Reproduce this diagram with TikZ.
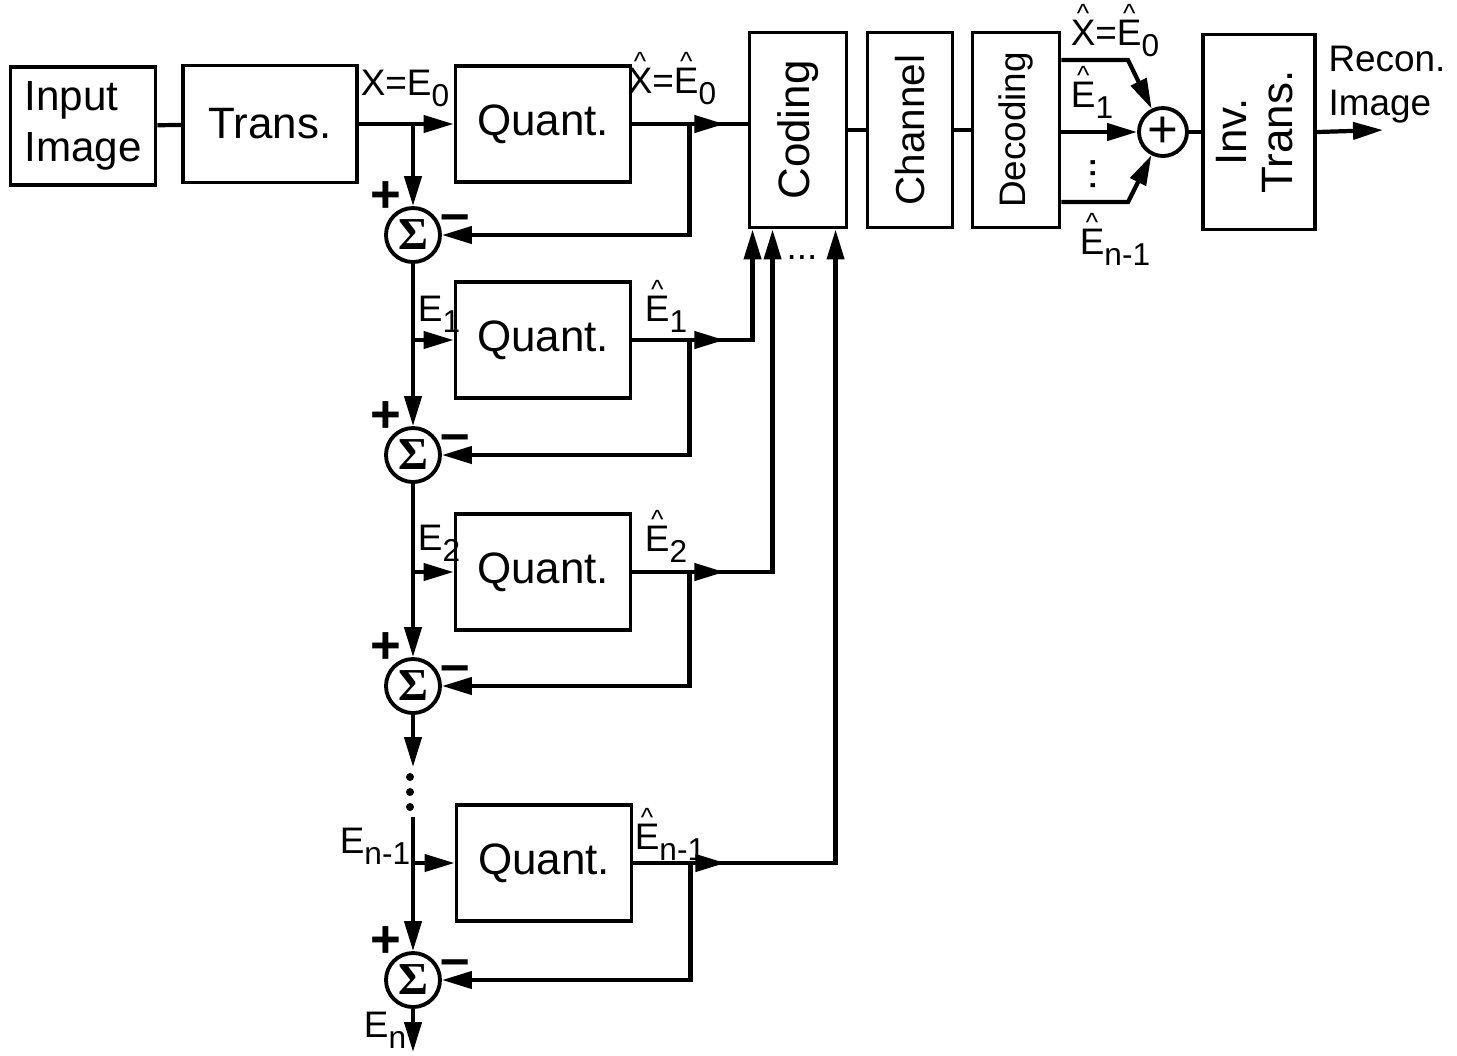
\documentclass[tikz,border=0pt]{standalone}
\usepackage{fontspec}
\usepackage{graphicx}
\setmainfont{Liberation Sans}
\newfontfamily\sigmafont{Liberation Serif}
\usetikzlibrary{arrows.meta, positioning, calc, decorations.markings}
\tikzset{
  every picture/.style={line width=1.2pt},
  blk/.style={draw, line width=1.1pt, inner sep=2pt, font=\fontsize{12.5}{15}\selectfont, minimum width=#1},
  quant/.style={blk=1.75cm, minimum height=1.16cm},
  tall/.style={blk=#1, minimum height=1.95cm},
  sumnode/.style={circle, draw, line width=1.1pt, minimum size=0.54cm, inner sep=0pt, font=\fontsize{13}{13}\selectfont},
  arrow/.style={-{Triangle[length=3mm, width=1.7mm]}},
  midarrow/.style={postaction={decorate, decoration={markings, mark=at position #1 with {\arrow{Triangle[length=3mm, width=1.7mm]}}}}},
  lbl/.style={font=\fontsize{10.5}{12}\selectfont, inner sep=1pt},
  sign/.style={font=\fontsize{15}{15}\selectfont\bfseries, inner sep=0pt},
}
\newcommand{\sig}{{\sigmafont\bfseries Σ}}
\newcommand{\sub}[1]{\raisebox{-0.3em}{\fontsize{9}{9}\selectfont #1}}
\newcommand{\hatl}[1]{\ooalign{#1\cr\hidewidth\raisebox{0.62em}{\fontsize{7.5}{8}\selectfont\textasciicircum}\hidewidth\cr}}

\begin{document}
\begin{tikzpicture}
  \useasboundingbox (0,0) rectangle (14.57,-10.55);
  % top row
  \node[blk=1.45cm, minimum height=1.18cm, align=left, font=\fontsize{12}{14.5}\selectfont] (inimg) at (0.83,-1.26) {Input\\Image};
  \node[blk=1.74cm, minimum height=1.17cm] (trans) at (2.70,-1.24) {Trans.};
  \node[quant] (q0) at (5.43,-1.24) {Quant.};
  \node[tall=0.97cm] (coding) at (7.98,-1.30) {\rotatebox{90}{Coding}};
  \node[tall=0.85cm, font=\fontsize{11.5}{14}\selectfont] (channel) at (9.10,-1.30) {\rotatebox{90}{Channel}};
  \node[tall=0.87cm, font=\fontsize{10.5}{13}\selectfont] (decoding) at (10.16,-1.30) {\rotatebox{90}{Decoding}};
  \node[sumnode, minimum size=0.48cm, font=\fontsize{15}{15}\selectfont] (sumout) at (11.63,-1.32) {+};
  \node[tall=0.99cm] (invt) at (12.59,-1.32) {\rotatebox{90}{\begin{tabular}{@{}c@{}}Inv.\\[-2pt]Trans.\end{tabular}}};
  \node[lbl, font=\fontsize{10.5}{12.5}\selectfont, align=left] (recon) at (13.87,-0.85) {Recon.\\Image};
  \coordinate (reconout) at (13.83,-1.30);

  % residual chain
  \node[sumnode] (s1) at (4.13,-2.35) {\sig};
  \node[quant] (q1) at (5.43,-3.40) {Quant.};
  \node[sumnode] (s2) at (4.13,-4.55) {\sig};
  \node[quant] (q2) at (5.43,-5.72) {Quant.};
  \node[sumnode] (s3) at (4.13,-6.86) {\sig};
  \node[quant] (qn) at (5.44,-8.63) {Quant.};
  \node[sumnode] (sn) at (4.13,-9.80) {\sig};
  \coordinate (gap1) at (4.13,-7.67);
  \coordinate (gap2) at (4.13,-8.17);
  \coordinate (enout) at (4.13,-10.52);

  % top row wiring
  \draw (inimg) -- (trans);
  \draw[arrow] (trans) -- (q0);
  \draw[midarrow=0.92cm] (q0.east) -- (q0.east -| coding.west);
  \draw (coding) -- (channel);
  \draw (channel) -- (decoding);
  \draw (sumout) -- (invt);
  \draw[arrow] (invt.east) -- (reconout);

  % spine of the subtractors
  \draw[arrow] (s1 |- trans.east) -- (s1);
  \draw[arrow] (s1) -- (s2);
  \draw[arrow] (s2) -- (s3);
  \draw[arrow] (s3) -- (gap1);
  \foreach \y in {7.77,7.92,8.07} \fill (4.10,-\y) circle (0.04);
  \draw[arrow] (gap2) -- (sn);
  \draw[arrow] (sn) -- (enout);
  \foreach \s/\q in {s1/q1, s2/q2, sn/qn} \draw[arrow] (\s |- \q.west) -- (\q.west);

  % feedback to the subtractors
  \foreach \q/\s in {q0/s1, q1/s2, q2/s3, qn/sn} {
    \coordinate (f\q) at ([xshift=0.57cm]\q.east);
    \draw[arrow] (f\q) |- (\s.east);
    \node[sign] at ([shift={(-0.27,0.38)}]\s) {+};
    \node[sign] at ([shift={(0.42,0.12)}]\s) {--};
  }

  % quantized residuals into the coder
  \draw[arrow, midarrow=0.92cm] (q1.east) -| ([xshift=0.05cm]coding.south west);
  \draw[arrow, midarrow=0.92cm] (q2.east) -| ([xshift=0.25cm]coding.south west);
  \draw[arrow, midarrow=0.92cm] (qn.east) -| ([xshift=0.88cm]coding.south west);
  \node[lbl] (cdots) at (8.02,-2.58) {...};

  % decoder outputs summed
  \coordinate (d0) at (11.28,-0.60);
  \coordinate (d2) at (11.28,-2.02);
  \draw[arrow] (decoding.east |- d0) -- (d0) -- (sumout);
  \draw[arrow] (decoding.east |- sumout) -- (sumout);
  \draw[arrow] (decoding.east |- d2) -- (d2) -- (sumout);
  \node[lbl, font=\fontsize{12}{12}\selectfont] (ddots) at (10.93,-1.74) {\rotatebox{90}{...}};

  % signal labels
  \node[lbl] (lx0) at (4.05,-0.88) {X=E\sub{0}};
  \node[lbl] (lxh0) at (6.72,-0.86) {\hatl{X}=\hatl{E}\sub{0}};
  \node[lbl] (le1) at (4.39,-3.14) {E\sub{1}};
  \node[lbl] (leh1) at (6.66,-3.14) {\hatl{E}\sub{1}};
  \node[lbl] (le2) at (4.39,-5.43) {E\sub{2}};
  \node[lbl] (leh2) at (6.66,-5.44) {\hatl{E}\sub{2}};
  \node[lbl] (len1) at (3.75,-8.46) {E\sub{n-1}};
  \node[lbl] (lehn1) at (6.70,-8.42) {\hatl{E}\sub{n-1}};
  \node[lbl] (len) at (3.85,-10.30) {E\sub{n}};
  \node[lbl] (rxh0) at (11.15,-0.38) {\hatl{X}=\hatl{E}\sub{0}};
  \node[lbl] (reh1) at (10.92,-1.00) {\hatl{E}\sub{1}};
  \node[lbl] (rehn1) at (11.15,-2.47) {\hatl{E}\sub{n-1}};
\end{tikzpicture}
\end{document}
